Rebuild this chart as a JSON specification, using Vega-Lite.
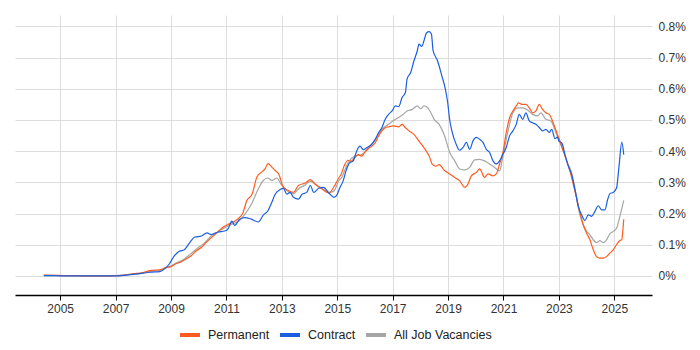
{
  "$schema": "https://vega.github.io/schema/vega-lite/v6.json",
  "width": 637,
  "height": 280,
  "autosize": "none",
  "padding": {"left": 15, "top": 15, "right": 48, "bottom": 55},
  "background": "white",
  "config": {
    "view": {"stroke": null},
    "font": "Liberation Sans",
    "axis": {"labelFont": "Liberation Sans", "labelFontSize": 12, "labelColor": "#333333", "gridColor": "#dddddd", "gridWidth": 1},
    "legend": {"labelFont": "Liberation Sans", "labelFontSize": 12.5, "labelColor": "#222222"}
  },
  "datasets": {
    "P": [
      [2004.41,0.003],[2004.8,0.002],[2005.2,0.001],[2005.6,0.001],[2006.0,0.0],[2006.5,0.0],[2007.0,0.001],[2007.3,0.003],[2007.63,0.007],[2008.0,0.011],[2008.24,0.017],[2008.6,0.02],[2008.8,0.026],[2009.0,0.03],[2009.2,0.04],[2009.36,0.045],[2009.55,0.055],[2009.73,0.065],[2009.9,0.08],[2010.1,0.092],[2010.3,0.11],[2010.45,0.122],[2010.7,0.142],[2010.9,0.158],[2011.05,0.165],[2011.2,0.171],[2011.4,0.182],[2011.6,0.203],[2011.73,0.24],[2011.93,0.263],[2012.1,0.317],[2012.27,0.333],[2012.4,0.344],[2012.5,0.36],[2012.64,0.349],[2012.76,0.338],[2012.88,0.328],[2013.06,0.284],[2013.24,0.274],[2013.42,0.268],[2013.6,0.29],[2013.85,0.298],[2014.03,0.309],[2014.2,0.295],[2014.45,0.279],[2014.7,0.266],[2014.88,0.286],[2015.06,0.315],[2015.15,0.328],[2015.27,0.357],[2015.39,0.371],[2015.51,0.368],[2015.63,0.379],[2015.76,0.389],[2015.88,0.384],[2016.0,0.397],[2016.12,0.408],[2016.24,0.416],[2016.37,0.427],[2016.49,0.448],[2016.61,0.465],[2016.73,0.475],[2016.85,0.478],[2017.04,0.481],[2017.22,0.478],[2017.34,0.486],[2017.46,0.475],[2017.59,0.465],[2017.77,0.454],[2017.95,0.432],[2018.13,0.411],[2018.32,0.384],[2018.44,0.357],[2018.56,0.352],[2018.68,0.357],[2018.87,0.338],[2019.06,0.327],[2019.24,0.316],[2019.42,0.305],[2019.6,0.284],[2019.72,0.295],[2019.84,0.321],[2020.02,0.332],[2020.14,0.343],[2020.32,0.316],[2020.44,0.327],[2020.62,0.321],[2020.74,0.327],[2020.86,0.359],[2020.98,0.396],[2021.1,0.46],[2021.22,0.507],[2021.34,0.529],[2021.46,0.545],[2021.54,0.555],[2021.66,0.55],[2021.81,0.55],[2021.93,0.539],[2022.05,0.523],[2022.17,0.529],[2022.29,0.55],[2022.41,0.534],[2022.53,0.523],[2022.65,0.518],[2022.8,0.49],[2022.92,0.46],[2023.04,0.432],[2023.16,0.4],[2023.28,0.368],[2023.4,0.336],[2023.52,0.293],[2023.64,0.25],[2023.76,0.202],[2023.88,0.164],[2024.0,0.137],[2024.12,0.116],[2024.24,0.084],[2024.36,0.062],[2024.48,0.057],[2024.6,0.057],[2024.72,0.062],[2024.84,0.073],[2024.96,0.084],[2025.08,0.1],[2025.2,0.114],[2025.27,0.116],[2025.31,0.148],[2025.34,0.182]
    ],
    "C": [
      [2004.41,0.001],[2004.8,0.001],[2005.2,0.0],[2005.6,0.0],[2006.0,0.0],[2006.5,0.0],[2007.0,0.0],[2007.3,0.002],[2007.63,0.005],[2008.0,0.009],[2008.24,0.012],[2008.6,0.014],[2008.8,0.025],[2008.95,0.04],[2009.1,0.062],[2009.2,0.072],[2009.3,0.079],[2009.48,0.084],[2009.67,0.106],[2009.85,0.124],[2010.1,0.128],[2010.3,0.138],[2010.45,0.133],[2010.7,0.141],[2010.94,0.144],[2011.06,0.151],[2011.2,0.176],[2011.3,0.162],[2011.48,0.182],[2011.67,0.187],[2011.9,0.182],[2012.15,0.173],[2012.33,0.195],[2012.5,0.209],[2012.64,0.236],[2012.76,0.262],[2012.94,0.277],[2013.06,0.281],[2013.18,0.262],[2013.3,0.268],[2013.42,0.252],[2013.6,0.246],[2013.73,0.262],[2013.9,0.268],[2014.03,0.29],[2014.15,0.268],[2014.33,0.281],[2014.5,0.284],[2014.7,0.266],[2014.88,0.252],[2014.98,0.258],[2015.09,0.282],[2015.21,0.304],[2015.33,0.341],[2015.45,0.363],[2015.57,0.368],[2015.7,0.4],[2015.82,0.416],[2015.94,0.405],[2016.06,0.411],[2016.24,0.422],[2016.37,0.438],[2016.49,0.459],[2016.61,0.475],[2016.73,0.502],[2016.85,0.518],[2016.98,0.529],[2017.1,0.545],[2017.22,0.543],[2017.34,0.572],[2017.46,0.588],[2017.52,0.631],[2017.65,0.652],[2017.77,0.69],[2017.89,0.722],[2017.95,0.743],[2018.05,0.736],[2018.13,0.754],[2018.22,0.779],[2018.32,0.783],[2018.4,0.775],[2018.46,0.722],[2018.62,0.69],[2018.78,0.64],[2018.9,0.6],[2018.98,0.56],[2019.06,0.5],[2019.16,0.457],[2019.28,0.425],[2019.42,0.403],[2019.54,0.412],[2019.66,0.428],[2019.78,0.406],[2019.9,0.433],[2020.02,0.444],[2020.14,0.438],[2020.26,0.428],[2020.38,0.406],[2020.5,0.396],[2020.62,0.369],[2020.74,0.359],[2020.86,0.369],[2020.98,0.39],[2021.1,0.412],[2021.22,0.449],[2021.34,0.465],[2021.46,0.486],[2021.57,0.518],[2021.69,0.502],[2021.81,0.523],[2021.93,0.497],[2022.05,0.491],[2022.17,0.486],[2022.29,0.476],[2022.41,0.465],[2022.53,0.47],[2022.65,0.46],[2022.74,0.47],[2022.86,0.44],[2022.95,0.445],[2023.0,0.432],[2023.1,0.427],[2023.22,0.389],[2023.34,0.352],[2023.46,0.325],[2023.58,0.277],[2023.7,0.223],[2023.82,0.196],[2023.94,0.178],[2024.06,0.196],[2024.18,0.191],[2024.3,0.207],[2024.42,0.225],[2024.54,0.212],[2024.66,0.212],[2024.76,0.245],[2024.84,0.264],[2024.96,0.268],[2025.08,0.282],[2025.17,0.352],[2025.27,0.429],[2025.34,0.389]
    ],
    "A": [
      [2004.41,0.002],[2004.8,0.001],[2005.2,0.001],[2005.6,0.0],[2006.0,0.0],[2006.5,0.0],[2007.0,0.001],[2007.3,0.003],[2007.63,0.006],[2008.0,0.01],[2008.24,0.015],[2008.6,0.018],[2008.8,0.026],[2009.0,0.033],[2009.2,0.042],[2009.48,0.054],[2009.7,0.07],[2009.97,0.09],[2010.2,0.105],[2010.45,0.128],[2010.7,0.142],[2010.94,0.155],[2011.2,0.166],[2011.45,0.176],[2011.67,0.198],[2011.9,0.23],[2012.15,0.279],[2012.33,0.306],[2012.5,0.314],[2012.64,0.306],[2012.82,0.314],[2013.0,0.29],[2013.24,0.27],[2013.42,0.263],[2013.6,0.279],[2013.85,0.292],[2014.03,0.303],[2014.27,0.29],[2014.45,0.281],[2014.7,0.268],[2014.88,0.272],[2015.06,0.306],[2015.15,0.314],[2015.39,0.363],[2015.63,0.384],[2015.88,0.389],[2016.12,0.411],[2016.37,0.436],[2016.61,0.47],[2016.85,0.486],[2017.1,0.502],[2017.34,0.515],[2017.52,0.529],[2017.71,0.534],[2017.89,0.545],[2018.01,0.536],[2018.13,0.545],[2018.26,0.54],[2018.38,0.523],[2018.5,0.502],[2018.68,0.486],[2018.87,0.45],[2019.06,0.396],[2019.24,0.369],[2019.42,0.343],[2019.6,0.34],[2019.78,0.348],[2019.96,0.372],[2020.14,0.374],[2020.32,0.369],[2020.5,0.359],[2020.68,0.348],[2020.86,0.337],[2020.98,0.385],[2021.1,0.438],[2021.22,0.486],[2021.34,0.523],[2021.52,0.539],[2021.69,0.539],[2021.87,0.532],[2022.05,0.518],[2022.23,0.513],[2022.35,0.523],[2022.53,0.502],[2022.71,0.497],[2022.89,0.46],[2023.01,0.433],[2023.16,0.4],[2023.3,0.365],[2023.46,0.33],[2023.6,0.27],[2023.72,0.21],[2023.85,0.17],[2024.0,0.143],[2024.12,0.132],[2024.24,0.116],[2024.36,0.107],[2024.48,0.113],[2024.6,0.107],[2024.72,0.116],[2024.84,0.135],[2024.96,0.143],[2025.08,0.153],[2025.2,0.191],[2025.34,0.242]
    ]
  },
  "encoding": {
    "x": {"field": "year", "type": "quantitative", "scale": {"domain": [2003.37, 2026.36], "nice": false, "zero": false},
      "axis": {"title": null, "values": [2005,2007,2009,2011,2013,2015,2017,2019,2021,2023,2025], "format": "d", "domainColor": "#000000", "domainWidth": 1.5, "tickColor": "#000000", "tickSize": 5, "labelPadding": 3, "grid": true, "labelOverlap": false}},
    "y": {"field": "value", "type": "quantitative", "scale": {"domain": [-0.061, 0.8365], "nice": false, "zero": false},
      "axis": {"title": null, "orient": "right", "values": [0,0.1,0.2,0.3,0.4,0.5,0.6,0.7,0.8], "labelExpr": "datum.value + '%'", "domain": false, "ticks": false, "labelPadding": 6, "grid": true, "labelOverlap": false, "labelBound": false}},
    "color": {"field": "series", "type": "nominal",
      "scale": {"domain": ["Permanent", "Contract", "All Job Vacancies"], "range": ["#ff5b1f", "#1b5fe0", "#a6a6a6"]},
      "legend": {"title": null, "orient": "none", "legendX": 163, "legendY": 308, "direction": "horizontal", "symbolType": "stroke", "symbolStrokeWidth": 4, "symbolSize": 400, "labelOffset": 6, "columnPadding": 2}}
  },
  "layer": [
    {
      "data": {"name": "A"},
      "transform": [{"calculate": "'All Job Vacancies'", "as": "series"}, {"calculate": "datum[0]", "as": "year"}, {"calculate": "datum[1]", "as": "value"}],
      "mark": {"type": "line", "strokeWidth": 1.2, "interpolate": "monotone"}
    },
    {
      "data": {"name": "P"},
      "transform": [{"calculate": "'Permanent'", "as": "series"}, {"calculate": "datum[0]", "as": "year"}, {"calculate": "datum[1]", "as": "value"}],
      "mark": {"type": "line", "strokeWidth": 1.2, "interpolate": "monotone"}
    },
    {
      "data": {"name": "C"},
      "transform": [{"calculate": "'Contract'", "as": "series"}, {"calculate": "datum[0]", "as": "year"}, {"calculate": "datum[1]", "as": "value"}],
      "mark": {"type": "line", "strokeWidth": 1.2, "interpolate": "monotone"}
    }
  ]
}
